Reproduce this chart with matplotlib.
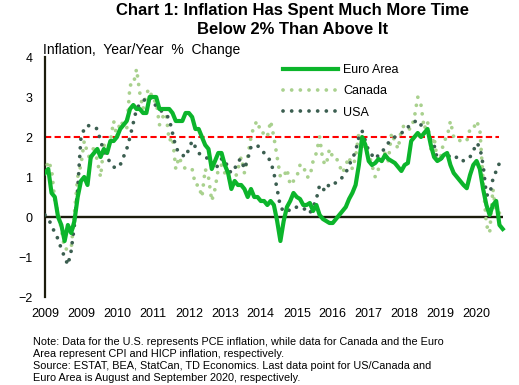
import matplotlib
matplotlib.use("Agg")
import matplotlib.pyplot as plt

# monthly y/y inflation, Jan 2009 onwards
euro = [1.1, 1.2, 0.6, 0.5, 0.0, -0.2, -0.6, -0.2, -0.4, -0.1, 0.5, 0.9,
        1.0, 0.8, 1.5, 1.6, 1.7, 1.5, 1.7, 1.6, 1.9, 1.9, 2.0, 2.2,
        2.3, 2.4, 2.7, 2.8, 2.7, 2.7, 2.6, 2.6, 3.0, 3.0, 3.0, 2.7,
        2.7, 2.7, 2.7, 2.6, 2.4, 2.4, 2.4, 2.6, 2.6, 2.5, 2.2, 2.2,
        2.0, 1.8, 1.7, 1.2, 1.4, 1.6, 1.6, 1.3, 1.1, 0.7, 0.9, 0.8,
        0.8, 0.7, 0.5, 0.7, 0.5, 0.5, 0.4, 0.4, 0.3, 0.4, 0.3, -0.1,
        -0.6, -0.1, 0.25, 0.4, 0.6, 0.5, 0.45, 0.3, 0.3, 0.35, 0.15, 0.3,
        0.05, -0.05, -0.1, -0.15, -0.15, -0.05, 0.05, 0.15, 0.25, 0.45, 0.6, 0.8,
        1.3, 2.0, 1.8, 1.4, 1.3, 1.35, 1.45, 1.4, 1.55, 1.45, 1.4, 1.35,
        1.25, 1.15, 1.3, 1.35, 1.9, 2.0, 2.1, 2.0, 2.1, 2.2, 1.8, 1.5,
        1.4, 1.45, 1.55, 1.6, 1.3, 1.1, 1.0, 0.9, 0.8, 0.72, 1.05, 1.3,
        1.4, 1.2, 0.7, 0.3, 0.05, 0.3, 0.4, -0.2, -0.3]

canada = [1.1, 1.4, 1.2, 0.4, 0.1, -0.3, -0.8, -0.8, -0.8, 0.1, 1.0, 1.3,
          1.9, 1.6, 1.4, 1.8, 1.4, 1.0, 1.8, 1.7, 1.9, 2.4, 2.0, 2.4,
          2.3, 2.2, 3.3, 3.3, 3.7, 3.1, 2.7, 3.1, 3.2, 2.9, 2.9, 2.3,
          2.5, 2.6, 1.9, 2.0, 1.2, 1.5, 1.3, 1.2, 1.2, 1.2, 0.8, 0.8,
          0.5, 1.2, 1.0, 0.4, 0.7, 1.2, 1.3, 1.1, 1.1, 0.7, 0.9, 1.2,
          1.5, 1.1, 1.5, 2.0, 2.3, 2.4, 2.1, 2.1, 2.0, 2.4, 2.0, 1.5,
          1.0, 1.0, 1.2, 0.8, 0.9, 1.0, 1.3, 1.3, 1.0, 1.0, 1.4, 1.6,
          2.0, 1.4, 1.3, 1.7, 1.5, 1.5, 1.3, 1.1, 1.3, 1.5, 1.2, 1.5,
          2.1, 2.0, 1.6, 1.6, 1.3, 1.0, 1.2, 1.4, 1.6, 1.4, 2.1, 1.9,
          1.7, 2.2, 2.3, 2.2, 2.2, 2.5, 3.0, 2.8, 2.2, 2.4, 1.7, 2.0,
          1.4, 1.5, 1.9, 2.0, 2.4, 2.0, 2.0, 1.9, 1.9, 1.9, 2.2, 2.2,
          2.4, 2.2, 0.9, -0.2, -0.4, 0.7, 0.1, 0.1]

usa = [0.05, -0.05, -0.2, -0.4, -0.55, -0.8, -1.0, -1.2, -0.85, -0.2, 0.7, 2.0,
       2.2, 2.3, 2.25, 2.25, 2.2, 1.9, 1.65, 1.5, 1.35, 1.25, 1.22, 1.3,
       1.5, 1.7, 2.0, 2.35, 2.7, 2.82, 2.88, 3.0, 3.0, 2.95, 2.75, 2.68,
       2.63, 2.57, 2.45, 2.1, 1.75, 1.6, 1.55, 1.5, 1.7, 1.9, 1.75, 1.6,
       1.53, 1.5, 1.45, 1.3, 1.2, 1.3, 1.45, 1.45, 1.2, 1.1, 1.2, 1.4,
       1.45, 1.2, 1.45, 1.75, 1.8, 1.78, 1.72, 1.6, 1.5, 1.4, 1.1, 0.7,
       0.25, 0.15, 0.2, 0.15, 0.2, 0.25, 0.25, 0.2, 0.2, 0.1, 0.25, 0.45,
       0.8, 0.7, 0.65, 0.85, 0.85, 0.85, 0.9, 1.0, 1.1, 1.3, 1.45, 1.65,
       2.0, 2.15, 1.9, 1.65, 1.55, 1.45, 1.55, 1.6, 1.75, 1.85, 1.93, 2.0,
       2.05, 2.1, 2.15, 2.25, 2.3, 2.38, 2.42, 2.3, 2.1, 2.05, 1.93, 1.8,
       1.45, 1.45, 1.5, 1.55, 1.5, 1.45, 1.5, 1.5, 1.4, 1.45, 1.5, 1.65,
       1.85, 1.75, 1.3, 0.55, 0.55, 0.95, 1.15, 1.35]

tick_pos = [0, 11, 22, 33, 44, 55, 66, 77, 88, 99, 110, 121, 132]
tick_labels = ["2009", "2009", "2010", "2011", "2012", "2013", "2014",
               "2015", "2016", "2017", "2018", "2019", "2020"]
target = 2

plt.rcParams["font.family"] = ["Liberation Sans", "DejaVu Sans"]

fig = plt.figure(figsize=(5.19, 3.85), dpi=100)
ax = fig.add_axes([45 / 519, 1 - 297 / 385, 461 / 519, 240 / 385])

dark = "#1c1c0c"
ax.hlines(0, 0, len(euro) - 1, color=dark, lw=1.7, zorder=1)
ax.hlines(target, 0, len(usa) - 1, color="#ff0000", lw=1.5,
          linestyles=(0, (3, 1.6)), zorder=1)

ax.plot(range(len(euro)), euro, color="#0cb52b", lw=3, label="Euro Area",
        solid_joinstyle="round", zorder=4)
ax.plot(range(len(canada)), canada, color="#a9d18e", lw=2.7,
        linestyle=(0, (0.01, 2.3)), dash_capstyle="round", label="Canada", zorder=3)
ax.plot(range(len(usa)), usa, color="#3b5e50", lw=2.7,
        linestyle=(0, (0.01, 2.3)), dash_capstyle="round", label="USA", zorder=3)

ax.set_xlim(0, 141)
ax.set_ylim(-2, 4)
ax.set_yticks(range(-2, 5))
ax.set_xticks(tick_pos)
ax.set_xticklabels(tick_labels)
ax.tick_params(axis="both", length=0, labelsize=9)
ax.tick_params(axis="y", pad=9)
ax.tick_params(axis="x", pad=8)
for s in ["top", "right", "bottom"]:
    ax.spines[s].set_visible(False)
ax.spines["left"].set_color(dark)
ax.spines["left"].set_linewidth(1.6)

fig.text(43 / 519, 1 - 50 / 385, "Inflation,  Year/Year  %  Change",
         fontsize=10, va="center", ha="left")

fig.text(293 / 519, 1 - 20 / 385,
         "Chart 1: Inflation Has Spent Much More Time\nBelow 2% Than Above It",
         fontsize=12, fontweight="bold", ha="center", va="center", linespacing=1.25)

ax.legend(loc="upper left", bbox_to_anchor=(283 / 519, 1 - 64 / 385),
          bbox_transform=fig.transFigure, frameon=False, fontsize=9,
          handlelength=4.4, handletextpad=0.4, labelspacing=0.75,
          borderpad=0, borderaxespad=0)

note = ("Note: Data for the U.S. represents PCE inflation, while data for Canada and the Euro\n"
        "Area represent CPI and HICP inflation, respectively.\n"
        "Source: ESTAT, BEA, StatCan, TD Economics. Last data point for US/Canada and\n"
        "Euro Area is August and September 2020, respectively.")
fig.text(33 / 519, 1 - 337 / 385, note, fontsize=7.8, ha="left", va="top",
         linespacing=1.25)

fig.savefig("out.png", dpi=100)
